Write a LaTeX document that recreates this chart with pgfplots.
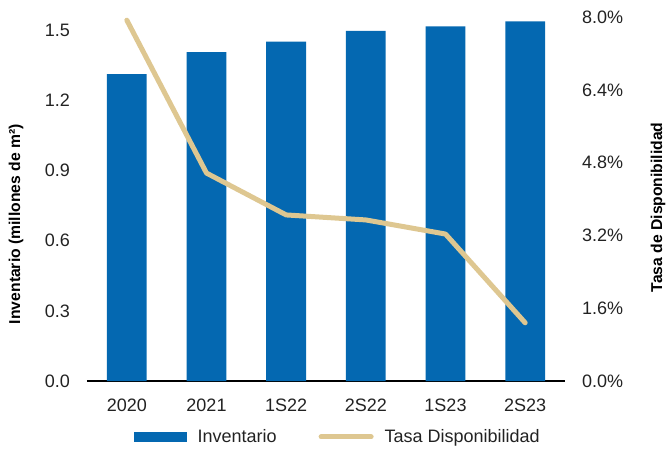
\documentclass[border=0pt]{standalone}
\usepackage{fontspec}
\setmainfont{Liberation Sans}
\usepackage{pgfplots}
\pgfplotsset{compat=1.18}
\definecolor{barblue}{HTML}{0468B1}
\definecolor{tanline}{HTML}{DEC791}
\definecolor{txt}{HTML}{222222}
\newcommand{\tickfont}{\fontsize{18}{20}\selectfont}
\newcommand{\labfont}{\fontsize{15.7}{18}\selectfont\bfseries}
\begin{document}
\begin{tikzpicture}
\begin{axis}[
  at={(0,0)}, anchor=south west, scale only axis,
  width=478pt, height=364pt,
  xmin=-0.5, xmax=5.5, ymin=0, ymax=1.5556,
  axis x line*=bottom, axis y line*=left,
  x axis line style={-, black, line width=1.2pt},
  y axis line style={draw=none},
  major tick length=0pt,
  xtick={0,1,2,3,4,5},
  xticklabels={2020,2021,1S22,2S22,1S23,2S23},
  ytick={0,0.3,0.6,0.9,1.2,1.5},
  yticklabels={0.0,0.3,0.6,0.9,1.2,1.5},
  tick label style={font=\tickfont, text=txt},
  xticklabel style={anchor=north, inner sep=0pt, yshift=-18pt},
  yticklabel style={anchor=east, inner sep=0pt, xshift=-17pt},
  ylabel={Inventario (millones de m²)},
  every axis y label/.style={at={(axis description cs:-0.1485,0.431)}, rotate=90, anchor=center, font=\labfont, text=black},
]
\addplot[ybar, bar width=0.5, fill=barblue, draw=none] coordinates {
  (0,1.312) (1,1.406) (2,1.450) (3,1.496) (4,1.516) (5,1.537)
};
\end{axis}
\begin{axis}[
  at={(0,0)}, anchor=south west, scale only axis,
  width=478pt, height=364pt,
  xmin=-0.5, xmax=5.5, ymin=0, ymax=8,
  axis x line=none, axis y line*=right,
  y axis line style={draw=none},
  major tick length=0pt,
  xtick=\empty,
  ytick={0,1.6,3.2,4.8,6.4,8},
  yticklabels={0.0\%,1.6\%,3.2\%,4.8\%,6.4\%,8.0\%},
  tick label style={font=\tickfont, text=txt},
  yticklabel style={anchor=west, inner sep=0pt, xshift=17pt},
  ylabel={Tasa de Disponibilidad},
  every axis y label/.style={at={(axis description cs:1.1946,0.477)}, rotate=90, anchor=center, font=\labfont, text=black},
  legend columns=2,
  legend style={at={(axis description cs:0.0983,-0.1538)}, anchor=west, draw=none, fill=none, inner sep=0pt,
    font=\tickfont, text=txt,
    nodes={inner sep=0pt, anchor=west},
    /tikz/every odd column/.append style={column sep=11pt},
    /tikz/every even column/.append style={column sep=42pt}},
]
\addlegendimage{legend image code/.code={\fill[barblue] (0pt,-4.5pt) rectangle (52pt,4.5pt);}}
\addlegendentry{Inventario}
\addplot[tanline, line width=5pt, line cap=round, line join=round,
  legend image code/.code={\draw[tanline, line width=5pt, line cap=round] (2.5pt,0pt) -- (52.5pt,0pt);}]
  coordinates {(0,7.93) (1,4.57) (2,3.65) (3,3.54) (4,3.23) (5,1.28)};
\addlegendentry{Tasa Disponibilidad}
\end{axis}
\pgfresetboundingbox
\path[use as bounding box] (-87pt,-67pt) rectangle (580pt,381pt);
\end{tikzpicture}
\end{document}
